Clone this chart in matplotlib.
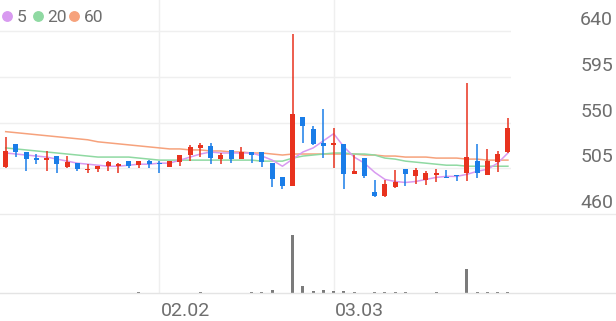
import matplotlib
matplotlib.use('Agg')
import matplotlib.pyplot as plt
from matplotlib.lines import Line2D
import numpy as np

plt.rcParams['font.family'] = ['Roboto', 'DejaVu Sans']

# daily candles
opens = [506, 529, 521, 515, 513, 517, 506, 510, 503, 504,
         507, 507, 512, 508, 512, 510, 506, 511, 518, 525,
         527, 514, 523, 514, 521, 521, 510, 496, 488, 555,
         544, 530, 528, 529, 499, 515, 482, 478, 487, 504,
         497, 493, 498, 496, 498, 500, 512, 498, 511, 521]
highs = [536, 529, 521, 519, 522, 517, 517, 510, 509, 507,
         512, 510, 512, 512, 513, 512, 512, 518, 528, 530,
         530, 520, 523, 526, 521, 521, 510, 496, 637, 555,
         547, 563, 545, 529, 518, 515, 493, 493, 503, 504,
         505, 502, 504, 503, 498, 589, 529, 524, 522, 554]
lows = [505, 516, 502, 509, 502, 500, 505, 502, 500, 501,
        502, 500, 505, 505, 505, 500, 506, 507, 512, 516,
        509, 509, 510, 514, 510, 506, 487, 485, 488, 530,
        528, 515, 505, 485, 499, 495, 477, 477, 486, 488,
        490, 489, 491, 495, 492, 492, 495, 498, 501, 520]
closes = [522, 521, 514, 513, 515, 509, 511, 504, 504, 507,
          511, 509, 507, 512, 509, 509, 512, 518, 526, 528,
          515, 518, 514, 521, 518, 511, 494, 488, 558, 547,
          529, 527, 530, 499, 502, 497, 478, 490, 491, 499,
          503, 500, 500, 495, 497, 516, 500, 512, 519, 545]
volumes = [30, 40, 30, 50, 40, 30, 40, 30, 50, 40,
           30, 40, 50, 60, 40, 30, 40, 30, 50, 60,
           40, 30, 40, 50, 60, 60, 300, 50, 5760, 660,
           200, 260, 170, 170, 100, 50, 130, 100, 100, 100,
           50, 50, 100, 50, 50, 2400, 130, 80, 80, 130]

# moving averages as drawn
ma5 = [520, 519, 518, 517, 516, 514, 512, 510, 509, 508,
       507, 507, 508, 509, 509, 510, 510, 513, 516, 519,
       521, 520, 520, 520, 520, 517, 513, 507, 514, 521,
       525, 532, 539, 526, 516, 510, 501, 494, 492, 491,
       492, 494, 496, 497, 497, 499, 502, 504, 510, 520]
ma20 = [525, 524, 523, 522, 521, 520, 519, 518, 517, 516,
        516, 516, 516, 515, 514, 513, 513, 513, 513, 513,
        513, 513, 513, 513, 513, 512, 512, 512, 515, 517,
        518, 519, 520, 520, 519, 519, 518, 515, 514, 512,
        511, 510, 509, 508, 508, 507, 507, 507, 507, 507]
ma60 = [541, 540, 539, 538, 537, 536, 535, 534, 533, 531,
        530, 529, 528, 527, 526, 525, 524, 524, 523, 523,
        522, 522, 521, 521, 520, 520, 519, 518, 519, 519,
        519, 519, 519, 519, 519, 518, 518, 517, 517, 516,
        516, 516, 515, 515, 515, 514, 514, 513, 513, 513]

price_ticks = [640, 595, 550, 505, 460]
date_idx = [15, 32]
date_labels = ['02.02', '03.03']

RED = '#e8321e'
BLUE = '#1a7de8'
GRID = '#efefef'
TXT = '#6e6e6e'
ma_colors = {'5': '#d89af0', '20': '#8fd9a2', '60': '#f6a27c'}

W, H = 616, 321
fig = plt.figure(figsize=(W / 100, H / 100), dpi=100)
plot_right = 511 / W
ax = fig.add_axes([0, (H - 214) / H, plot_right, 214 / H])
axv = fig.add_axes([0, (H - 293) / H, plot_right, 79 / H])

x = np.arange(len(closes))
xlim = (-0.556, 49.3)

# price panel
ax.set_xlim(*xlim)
ax.set_ylim(460, 640 + 31 * 180 / 183)
for p in price_ticks[:-1]:
    ax.axhline(p, color=GRID, lw=1, zorder=0)
for i in date_idx:
    ax.axvline(i, color=GRID, lw=1, zorder=0)

ax.plot(x, ma60, color=ma_colors['60'], lw=1.1, zorder=1)
ax.plot(x, ma20, color=ma_colors['20'], lw=1.1, zorder=1)
ax.plot(x, ma5, color=ma_colors['5'], lw=1.1, zorder=1)

o = np.array(opens, dtype=float)
c = np.array(closes, dtype=float)
colors = [RED if cc >= oo else BLUE for oo, cc in zip(o, c)]
bottoms = np.minimum(o, c)
heights = np.maximum(np.abs(c - o), 1.0)
ax.vlines(x, lows, highs, colors=colors, lw=1.1, zorder=2)
ax.bar(x, heights, bottom=bottoms, width=0.48, color=colors, zorder=3)

for sp in ax.spines.values():
    sp.set_visible(False)
ax.set_xticks([])
ax.set_yticks([])

# y labels sit on top of their grid lines, right side
for p in price_ticks:
    ax.annotate(str(p), xy=(1, p), xycoords=('axes fraction', 'data'),
                xytext=(102 * 0.72, 6 * 0.72), textcoords='offset points',
                ha='right', va='baseline', fontsize=14, color=TXT,
                annotation_clip=False)

# volume panel
axv.set_xlim(*xlim)
axv.set_ylim(0, 7900)
for i in date_idx:
    axv.axvline(i, color=GRID, lw=1, zorder=0)
axv.bar(x, volumes, width=0.3, color='#7b7b7b', zorder=2)
for sp in axv.spines.values():
    sp.set_visible(False)
axv.set_xticks([])
axv.set_yticks([])

for i, lab in zip(date_idx, date_labels):
    axv.annotate(lab, xy=(i, 0), xycoords='data',
                 xytext=(1.5 * 0.72, -23 * 0.72), textcoords='offset points',
                 ha='left', va='baseline', fontsize=14, color=TXT,
                 annotation_clip=False)

# full width separators
for yp, col in [(214, '#ebebeb'), (293, '#e4e4e4')]:
    fig.add_artist(Line2D([0, 1], [1 - yp / H, 1 - yp / H],
                          transform=fig.transFigure, color=col, lw=1))

# legend
leg = [('5', 7, 17), ('20', 37.5, 47), ('60', 74, 84)]
for name, dot_x, txt_x in leg:
    fig.add_artist(Line2D([dot_x / W], [1 - 16 / H], transform=fig.transFigure,
                          marker='o', markersize=6.8, color=ma_colors[name], lw=0))
    fig.text(txt_x / W, 1 - 22.5 / H, name, fontsize=12.5, color=TXT,
             ha='left', va='baseline')

fig.savefig('out.png', dpi=100)
